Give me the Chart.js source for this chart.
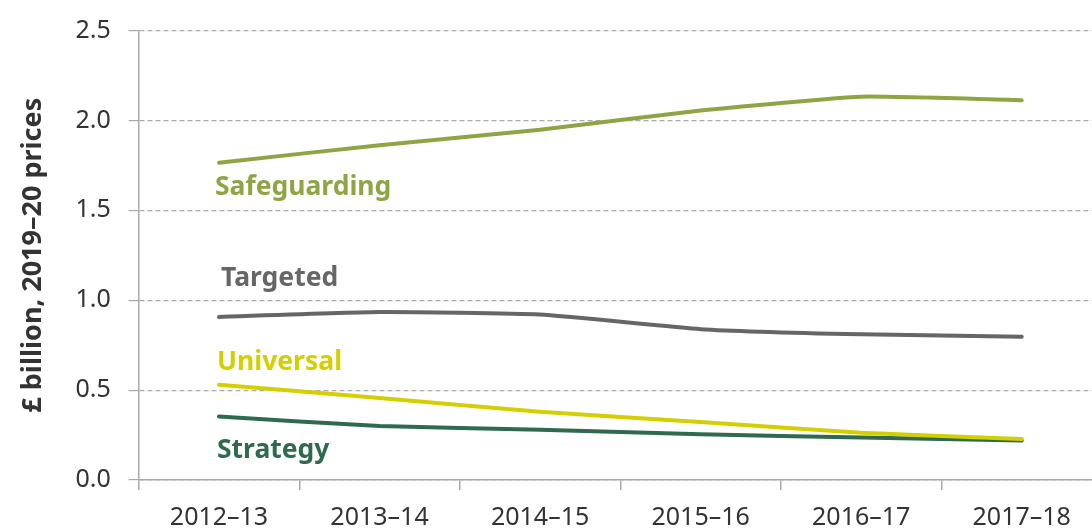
<!DOCTYPE html>
<html>
<head>
<meta charset="utf-8">
<script src="https://cdn.jsdelivr.net/npm/chart.js@4/dist/chart.umd.min.js"></script>
<style>
  html, body { margin: 0; padding: 0; background: #fff; overflow: hidden; }
  #wrap { width: 1102px; height: 531px; }
</style>
</head>
<body>
<div id="wrap"><canvas id="spendChart" width="1102" height="531"></canvas></div>
<script>
// données
const years = ['2012–13', '2013–14', '2014–15', '2015–16', '2016–17', '2017–18'];
const safeguarding = [1.765, 1.862, 1.948, 2.055, 2.132, 2.112];
const targeted = [0.907, 0.934, 0.92, 0.839, 0.81, 0.797];
const universal = [0.53, 0.456, 0.38, 0.322, 0.263, 0.228];
const strategy = [0.353, 0.30, 0.279, 0.254, 0.236, 0.219];
const yTicks = [0, 0.5, 1.0, 1.5, 2.0, 2.5];

const FONT = "'Noto Sans', 'Open Sans', sans-serif";

// étiquettes directes à côté du premier point de chaque série
const seriesLabels = {
    id: 'seriesLabels',
    afterDatasetsDraw(chart, args, opts) {
        const ctx = chart.ctx;
        ctx.save();
        ctx.font = 'bold 26.5px ' + FONT;
        ctx.textBaseline = 'middle';
        ctx.textAlign = 'left';
        chart.data.datasets.forEach((ds, i) => {
            const pt = chart.getDatasetMeta(i).data[0];
            const off = opts.offsets[i];
            ctx.fillStyle = ds.borderColor;
            ctx.fillText(ds.label, pt.x + off[0], pt.y + off[1]);
        });
        ctx.restore();
    }
};

function line(label, data, color) {
    return {
        label: label,
        data: data,
        borderColor: color,
        backgroundColor: color,
        borderWidth: 4,
        pointRadius: 0,
        tension: 0.15,
        borderCapStyle: 'round',
        fill: false
    };
}

const ctx = document.getElementById('spendChart').getContext('2d');
new Chart(ctx, {
    type: 'line',
    data: {
        labels: years,
        datasets: [
            line('Safeguarding', safeguarding, '#8fa545'),
            line('Targeted', targeted, '#666666'),
            line('Universal', universal, '#d4cf00'),
            line('Strategy', strategy, '#2e6b4e')
        ]
    },
    plugins: [seriesLabels],
    options: {
        responsive: false,
        animation: false,
        layout: { padding: { left: 17, top: -3, right: 0, bottom: -14 } },
        plugins: {
            legend: { display: false },
            tooltip: { enabled: false },
            seriesLabels: {
                offsets: [[-4, 25], [2, -38], [-2, -22], [-2, 34]]
            }
        },
        scales: {
            x: {
                offset: true,
                grid: {
                    offset: true,
                    drawOnChartArea: false,
                    color: '#aaaaaa',
                    lineWidth: 1.5,
                    tickLength: 10
                },
                border: { color: '#aaaaaa', width: 1.5 },
                ticks: {
                    color: '#333333',
                    padding: 15,
                    maxRotation: 0,
                    font: { size: 25, family: FONT, lineHeight: 1 }
                }
            },
            y: {
                min: 0,
                max: 2.5,
                afterBuildTicks: axis => { axis.ticks = yTicks.map(v => ({ value: v })); },
                grid: {
                    color: '#aaaaaa',
                    lineWidth: 1.2,
                    tickBorderDash: [],
                    tickLength: 10
                },
                border: { color: '#aaaaaa', width: 1.5, dash: [5, 3] },
                ticks: {
                    color: '#333333',
                    padding: 18,
                    callback: v => Number(v).toFixed(1),
                    font: { size: 25, family: FONT, lineHeight: 1 }
                },
                title: {
                    display: true,
                    text: '£ billion, 2019–20 prices',
                    color: '#333333',
                    padding: { top: 0, bottom: 8 },
                    font: { size: 27, weight: 'bold', family: FONT }
                }
            }
        }
    }
});
</script>
</body>
</html>
